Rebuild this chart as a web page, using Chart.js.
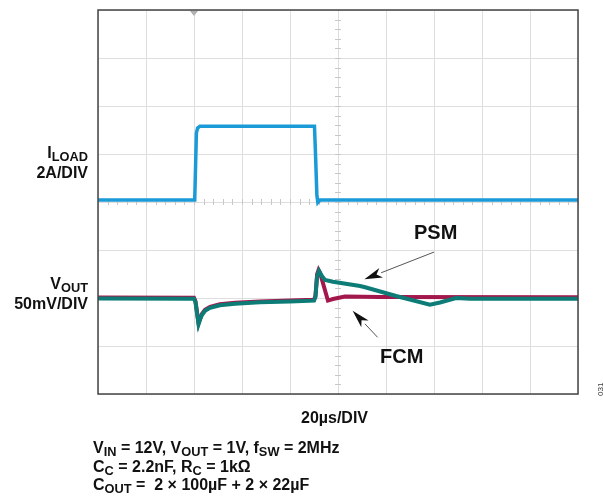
<!DOCTYPE html>
<html>
<head>
<meta charset="utf-8">
<script src="https://cdn.jsdelivr.net/npm/chart.js@4.4.1/dist/chart.umd.min.js"></script>
<style>
  html, body { margin: 0; padding: 0; background: #fff; }
  #wrap { position: relative; width: 603px; height: 498px; overflow: hidden; }
  #scope { position: absolute; left: 0; top: 0; }
  .lbl { position: absolute; font: bold 16px "Liberation Sans", Arial, sans-serif; line-height: 16px; color: #111; white-space: nowrap; }
  .lbl.r { text-align: right; }
  .s { font-size: 0.8em; position: relative; top: 0.22em; }
  .big { font-size: 20px; line-height: 20px; }
  .note { font-size: 16px; line-height: 16px; }
  .code { position: absolute; font: 8px "Liberation Sans", Arial, sans-serif; color: #333; transform: rotate(-90deg); transform-origin: left top; }
</style>
</head>
<body>
<div id="wrap">
  <canvas id="scope" width="603" height="498"></canvas>

  <div class="lbl r" style="right:515px; top:145px;">I<span class="s">LOAD</span></div>
  <div class="lbl r" style="right:515px; top:165px;">2A/DIV</div>
  <div class="lbl r" style="right:515px; top:276px;">V<span class="s">OUT</span></div>
  <div class="lbl r" style="right:515px; top:296px;">50mV/DIV</div>

  <div class="lbl big" style="left:414px; top:222px;">PSM</div>
  <div class="lbl big" style="left:380px; top:346px;">FCM</div>

  <div class="lbl note" style="left:301px; top:410px;">20µs/DIV</div>
  <div class="lbl note" style="left:93px; top:440px;">V<span class="s">IN</span> = 12V, V<span class="s">OUT</span> = 1V, f<span class="s">SW</span> = 2MHz</div>
  <div class="lbl note" style="left:93px; top:459px;">C<span class="s">C</span> = 2.2nF, R<span class="s">C</span> = 1kΩ</div>
  <div class="lbl note" style="left:93px; top:477px;">C<span class="s">OUT</span> = &nbsp;2 × 100µF + 2 × 22µF</div>

  <div class="code" style="left:596px; top:396px;">031</div>
</div>

<script>
// time base: 20us/div, 10 divisions
const timeSpan = [0, 200];
const usPerDiv = 20;

// load current step, amps above the idle level
const iloadTime = [0, 40.3, 40.7, 41.0, 41.5, 42.5, 90.2, 90.6, 91.2, 91.6, 92.5, 200];
const iloadAmps = [0, 0, 1.6, 2.8, 3.0, 3.08, 3.08, 2.0, 0.2, -0.1, 0, 0];

// output voltage deviation from 1V, mV — pulse skip mode
const psmTime = [0, 40, 40.6, 41.9, 42.5, 43.3, 44.6, 46.7, 50.8, 57.1, 67.5, 80, 90,
                 90.6, 91.3, 92.1, 93.3, 94.6, 97.9, 109.2, 111.3, 124.2, 138.3, 142.5, 149.2, 155, 200];
const psmMv = [0.2, 0, -3.4, -26.4, -22, -17, -12.5, -9.5, -6.8, -5.2, -3.8, -2.8, -2.0,
               1.8, 23.6, 28.9, 23.6, 19.5, 17.7, 13.2, 11.9, 2.8, -6.2, -3.9, 0.7, 0, 0];

// forced continuous mode
const fcmTime = [0, 40, 40.6, 41.9, 42.5, 43.3, 44.6, 46.7, 50.8, 57.1, 67.5, 80, 90,
                 90.6, 91.3, 91.9, 92.5, 95.8, 97.9, 102.9, 117.5, 200];
const fcmMv = [1.2, 1.0, -2.4, -25.4, -21, -16, -11.5, -8.5, -5.8, -4.2, -2.8, -1.8, -1.0,
               2.8, 25.6, 29.9, 27, -1.9, -0.3, 2.3, 1.8, 1.5];

// channel settings: units/div and where the zero sits (in divisions from the bottom)
const ampsPerDiv = 2, iloadZeroDiv = 4.04;
const mvPerDiv = 50, voutZeroDiv = 1.985;
const vDivs = 8;

// arrows in (us, mV)
const psmArrow = { from: [140, 48.6], to: [111, 20.2] };
const fcmArrow = { from: [116.5, -40.2], to: [106.1, -12.5] };

const trigTime = 40;

function pts(xs, ys) {
  return xs.map((x, i) => ({ x: x, y: ys[i] }));
}

const scopeDeco = {
  id: 'scopeDeco',
  beforeDatasetsDraw(chart) {
    const ctx = chart.ctx;
    const xs = chart.scales.x, yd = chart.scales.yDiv;
    const cx = xs.getPixelForValue((timeSpan[0] + timeSpan[1]) / 2);
    const cy = yd.getPixelForValue(vDivs / 2);
    ctx.save();
    ctx.strokeStyle = '#c8c8c8';
    ctx.lineWidth = 1;
    ctx.beginPath();
    // minor ticks on the centre cross, 5 per division
    for (let d = 0; d <= vDivs * 5; d++) {
      const y = Math.round(yd.getPixelForValue(d / 5)) + 0.5;
      ctx.moveTo(cx - 3, y); ctx.lineTo(cx + 3, y);
    }
    for (let t = timeSpan[0]; t <= timeSpan[1]; t += usPerDiv / 5) {
      const x = Math.round(xs.getPixelForValue(t)) + 0.5;
      ctx.moveTo(x, cy - 3); ctx.lineTo(x, cy + 3);
    }
    ctx.stroke();
    ctx.restore();
  },
  afterDatasetsDraw(chart) {
    const ctx = chart.ctx;
    const a = chart.chartArea;
    const xs = chart.scales.x, yv = chart.scales.yV;
    ctx.save();
    // frame
    ctx.strokeStyle = '#444';
    ctx.lineWidth = 1.5;
    ctx.strokeRect(a.left, a.top, a.right - a.left, a.bottom - a.top);
    // trigger marker
    const tx = xs.getPixelForValue(trigTime);
    ctx.fillStyle = '#b0b0b0';
    ctx.beginPath();
    ctx.moveTo(tx - 4, a.top + 1);
    ctx.lineTo(tx + 4, a.top + 1);
    ctx.lineTo(tx, a.top + 6);
    ctx.closePath();
    ctx.fill();
    // callout arrows
    [psmArrow, fcmArrow].forEach(ar => {
      const x0 = xs.getPixelForValue(ar.from[0]), y0 = yv.getPixelForValue(ar.from[1]);
      const x1 = xs.getPixelForValue(ar.to[0]), y1 = yv.getPixelForValue(ar.to[1]);
      const ang = Math.atan2(y1 - y0, x1 - x0);
      const len = 18, half = 5;
      const bx = x1 - len * Math.cos(ang), by = y1 - len * Math.sin(ang);
      ctx.strokeStyle = '#555';
      ctx.lineWidth = 1;
      ctx.beginPath();
      ctx.moveTo(x0, y0);
      ctx.lineTo(bx, by);
      ctx.stroke();
      ctx.fillStyle = '#111';
      ctx.beginPath();
      ctx.moveTo(x1, y1);
      ctx.lineTo(bx + half * Math.sin(ang), by - half * Math.cos(ang));
      ctx.lineTo(x1 - (len - 5) * Math.cos(ang), y1 - (len - 5) * Math.sin(ang));
      ctx.lineTo(bx - half * Math.sin(ang), by + half * Math.cos(ang));
      ctx.closePath();
      ctx.fill();
    });
    ctx.restore();
  }
};

const ctx = document.getElementById('scope').getContext('2d');
new Chart(ctx, {
  type: 'line',
  data: {
    datasets: [
      {
        label: 'PSM',
        data: pts(psmTime, psmMv),
        yAxisID: 'yV',
        borderColor: '#0d7c76',
        borderWidth: 4,
        tension: 0,
        pointRadius: 0,
        order: 1
      },
      {
        label: 'FCM',
        data: pts(fcmTime, fcmMv),
        yAxisID: 'yV',
        borderColor: '#a3184c',
        borderWidth: 4,
        tension: 0,
        pointRadius: 0,
        order: 2
      },
      {
        label: 'ILOAD',
        data: pts(iloadTime, iloadAmps),
        yAxisID: 'yI',
        borderColor: '#1a9bd7',
        borderWidth: 3.5,
        tension: 0,
        pointRadius: 0,
        order: 3
      }
    ]
  },
  options: {
    responsive: false,
    animation: false,
    layout: { padding: { left: 98, right: 25, top: 10, bottom: 104 } },
    plugins: { legend: { display: false }, tooltip: { enabled: false } },
    scales: {
      x: {
        type: 'linear',
        min: timeSpan[0], max: timeSpan[1],
        ticks: { display: false, stepSize: usPerDiv },
        grid: { color: '#dedede', lineWidth: 1, drawTicks: false },
        border: { display: false }
      },
      yDiv: {
        type: 'linear',
        position: 'left',
        min: 0, max: vDivs,
        ticks: { display: false, stepSize: 1 },
        grid: { color: '#dedede', lineWidth: 1, drawTicks: false },
        border: { display: false }
      },
      yI: {
        type: 'linear',
        display: false,
        min: -iloadZeroDiv * ampsPerDiv,
        max: (vDivs - iloadZeroDiv) * ampsPerDiv
      },
      yV: {
        type: 'linear',
        display: false,
        min: -voutZeroDiv * mvPerDiv,
        max: (vDivs - voutZeroDiv) * mvPerDiv
      }
    }
  },
  plugins: [scopeDeco]
});
</script>
</body>
</html>
